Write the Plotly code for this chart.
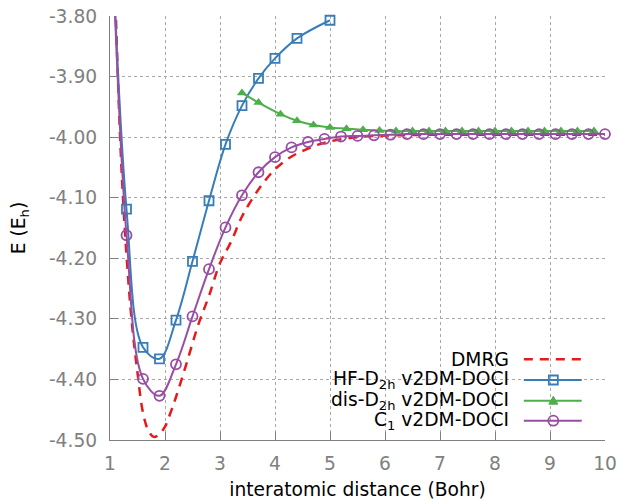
import plotly.graph_objects as go

# ---------------- data ----------------
dmrg_x = [1.1, 1.2, 1.3, 1.4, 1.5, 1.6, 1.7, 1.8, 1.9, 2.0, 2.1, 2.2, 2.4, 2.6, 2.8,
          3.0, 3.2, 3.4, 3.6, 3.8, 4.0, 4.2, 4.4, 4.6, 4.8, 5.0, 5.4, 5.8, 6.2, 7.0,
          8.0, 9.0, 10.0]
dmrg_y = [-3.78, -4.035, -4.195, -4.309, -4.389, -4.455, -4.485, -4.495, -4.490, -4.478,
          -4.455, -4.429, -4.371, -4.311, -4.262, -4.208, -4.173, -4.131, -4.100, -4.074,
          -4.053, -4.038, -4.027, -4.019, -4.012, -4.007, -4.001, -3.998, -3.997, -3.996,
          -3.996, -3.996, -3.996]

hf_x = [1.0, 1.3, 1.6, 1.9, 2.2, 2.5, 2.8, 3.1, 3.4, 3.7, 4.0, 4.4, 5.0]
hf_y = [-3.59, -4.119, -4.347, -4.366, -4.302, -4.205, -4.105, -4.012, -3.948, -3.903,
        -3.870, -3.837, -3.807]

dis_x = [3.4, 3.7, 4.1, 4.4, 4.7, 5.0, 5.3, 5.6, 5.9, 6.2, 6.5, 6.8, 7.1, 7.4, 7.7,
         8.0, 8.3, 8.6, 8.9, 9.2, 9.5, 9.8]
dis_y = [-3.927, -3.943, -3.962, -3.973, -3.980, -3.984, -3.986, -3.988, -3.989, -3.990,
         -3.990, -3.990, -3.990, -3.990, -3.990, -3.990, -3.990, -3.990, -3.990, -3.990,
         -3.990, -3.990]

c1_x = [1.0, 1.3, 1.6, 1.9, 2.2, 2.5, 2.8, 3.1, 3.4, 3.7, 4.0, 4.3, 4.6, 4.9, 5.2,
        5.5, 5.8, 6.1, 6.4, 6.7, 7.0, 7.3, 7.6, 7.9, 8.2, 8.5, 8.8, 9.1, 9.4, 9.7, 10.0]
c1_y = [-3.57, -4.162, -4.399, -4.427, -4.375, -4.296, -4.218, -4.149, -4.096, -4.058,
        -4.033, -4.017, -4.008, -4.003, -3.999, -3.998, -3.997, -3.996, -3.995, -3.995,
        -3.995, -3.995, -3.995, -3.995, -3.995, -3.995, -3.995, -3.995, -3.995, -3.995,
        -3.995]

x_ticks = [1, 2, 3, 4, 5, 6, 7, 8, 9, 10]
x_ticktext = ["1", "2", "3", "4", "5", "6", "7", "8", "9", "10"]
y_ticks = [-3.80, -3.90, -4.00, -4.10, -4.20, -4.30, -4.40, -4.50]
y_ticktext = ["-3.80", "-3.90", "-4.00", "-4.10", "-4.20", "-4.30", "-4.40", "-4.50"]

legend_labels = ["DMRG", "HF-D<sub>2h</sub> v2DM-DOCI", "dis-D<sub>2h</sub> v2DM-DOCI",
                 "C<sub>1</sub> v2DM-DOCI"]

# ---------------- style ----------------
RED = "#e41a1c"
BLUE = "#377eb8"
GREEN = "#4daf4a"
PURPLE = "#984ea3"
GRAY = "#808080"
FONT = "DejaVu Sans"
FS = 18.67

fig = go.Figure()

fig.add_trace(go.Scatter(x=dmrg_x, y=dmrg_y, mode="lines",
                         line=dict(color=RED, width=2.5, dash="9px,7px", shape="spline"),
                         showlegend=False))
fig.add_trace(go.Scatter(x=hf_x, y=hf_y, mode="lines+markers",
                         line=dict(color=BLUE, width=2, shape="spline"),
                         marker=dict(symbol="square-open", size=9, color=BLUE,
                                     line=dict(width=1.8, color=BLUE)),
                         cliponaxis=False, showlegend=False))
fig.add_trace(go.Scatter(x=dis_x, y=dis_y, mode="lines+markers",
                         line=dict(color=GREEN, width=2, shape="spline"),
                         marker=dict(symbol="triangle-up", size=9, color=GREEN),
                         cliponaxis=False, showlegend=False))
fig.add_trace(go.Scatter(x=c1_x, y=c1_y, mode="lines+markers",
                         line=dict(color=PURPLE, width=2, shape="spline"),
                         marker=dict(symbol="circle-open", size=10, color=PURPLE,
                                     line=dict(width=1.8, color=PURPLE)),
                         cliponaxis=False, showlegend=False))

axis_common = dict(
    ticks="inside", ticklen=8, tickcolor=GRAY, tickwidth=1,
    showline=True, linecolor=GRAY, linewidth=1.2, mirror=False,
    showgrid=True, gridcolor="#a8a8a8", griddash="dot", gridwidth=1,
    zeroline=False, tickfont=dict(family=FONT, size=FS, color=GRAY),
)

fig.update_xaxes(range=[1, 10], tickmode="array", tickvals=x_ticks, ticktext=x_ticktext,
                 ticklabelstandoff=6,
                 title=dict(text="interatomic distance (Bohr)",
                            font=dict(family=FONT, size=FS, color="black"), standoff=12),
                 **axis_common)
fig.update_yaxes(range=[-4.50, -3.80], tickmode="array", tickvals=y_ticks,
                 ticktext=y_ticktext, ticklabelstandoff=8,
                 title=dict(text="E (E<sub>h</sub>)",
                            font=dict(family=FONT, size=FS, color="black"), standoff=18),
                 **axis_common)

# ---------------- legend (text left of sample, like gnuplot) ----------------
rows_y = [0.1903, 0.1415, 0.0927, 0.0455]
text_x = 0.810
line_x0, line_x1 = 0.836, 0.953
mark_x = 0.8956
colors = [RED, BLUE, GREEN, PURPLE]
shapes = []
annotations = []
for i, (lab, yy, col) in enumerate(zip(legend_labels, rows_y, colors)):
    annotations.append(dict(text=lab, xref="paper", yref="paper", x=text_x, y=yy,
                            xanchor="right", yanchor="middle", showarrow=False,
                            font=dict(family=FONT, size=FS, color="black")))
    shapes.append(dict(type="line", xref="paper", yref="paper", x0=line_x0, x1=line_x1,
                       y0=yy, y1=yy,
                       line=dict(color=col, width=2.5 if i == 0 else 2,
                                 dash="9px,7px" if i == 0 else "solid")))
pix = dict(xref="paper", yref="paper", xsizemode="pixel", ysizemode="pixel", xanchor=mark_x)
shapes.append(dict(type="rect", yanchor=rows_y[1], x0=-4.5, x1=4.5, y0=-4.5, y1=4.5,
                   line=dict(color=BLUE, width=1.8), **pix))
shapes.append(dict(type="path", yanchor=rows_y[2], path="M -4.5 -3.5 L 4.5 -3.5 L 0 4.5 Z",
                   fillcolor=GREEN, line=dict(color=GREEN, width=1), **pix))
shapes.append(dict(type="circle", yanchor=rows_y[3], x0=-5, x1=5, y0=-5, y1=5,
                   line=dict(color=PURPLE, width=1.8), **pix))

fig.update_layout(
    width=618, height=500,
    margin=dict(l=110, r=13, t=16, b=60, autoexpand=False),
    paper_bgcolor="white", plot_bgcolor="white",
    font=dict(family=FONT, size=FS, color=GRAY),
    showlegend=False, shapes=shapes, annotations=annotations,
)

fig.write_html("out.html")
